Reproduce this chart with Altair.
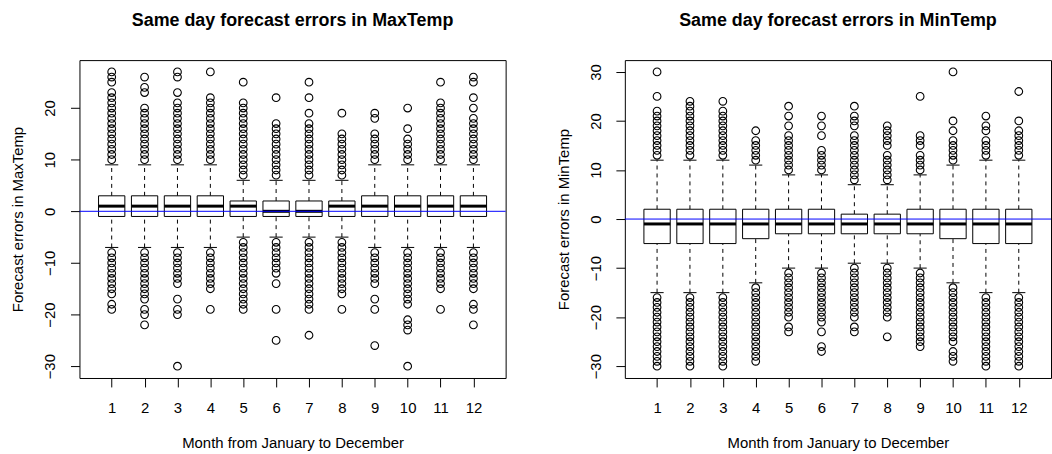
import altair as alt
import pandas as pd

FONT = "Liberation Sans"
months = [1, 2, 3, 4, 5, 6, 7, 8, 9, 10, 11, 12]

# ---- MaxTemp box statistics ----
max_q1 = [-1, -1, -1, -1, -1, -1, -1, -1, -1, -1, -1, -1]
max_med = [1, 1, 1, 1, 1, 0, 0, 1, 1, 1, 1, 1]
max_q3 = [3, 3, 3, 3, 2, 2, 2, 2, 3, 3, 3, 3]
max_lo = [-7, -7, -7, -7, -5, -5, -5, -5, -7, -7, -7, -7]
max_hi = [9, 9, 9, 9, 6, 6, 6, 6, 9, 9, 9, 9]

max_out_hi = [
    [10, 11, 12, 13, 14, 15, 16, 17, 18, 19, 20, 21, 22, 23, 25, 26, 27],
    [10, 11, 12, 13, 14, 15, 16, 17, 18, 19, 20, 23, 24, 26],
    [10, 11, 12, 13, 14, 15, 16, 17, 18, 19, 20, 21, 23, 26, 27],
    [10, 11, 12, 13, 14, 15, 16, 17, 18, 19, 20, 21, 22, 27],
    [7, 8, 9, 10, 11, 12, 13, 14, 15, 16, 17, 18, 19, 20, 21, 25],
    [7, 8, 9, 10, 11, 12, 13, 14, 15, 16, 17, 22],
    [7, 8, 9, 10, 11, 12, 13, 14, 15, 16, 17, 19, 22, 25],
    [7, 8, 9, 10, 11, 12, 13, 14, 15, 19],
    [10, 11, 12, 13, 14, 15, 18, 19],
    [10, 11, 12, 13, 14, 16, 20],
    [10, 11, 12, 13, 14, 15, 16, 17, 18, 19, 20, 21, 25],
    [10, 11, 12, 13, 14, 15, 16, 17, 18, 20, 22, 25, 26],
]
max_out_lo = [
    [-8, -9, -10, -11, -12, -13, -14, -15, -16, -18, -19],
    [-8, -9, -10, -11, -12, -13, -14, -15, -16, -17, -19, -20, -22],
    [-8, -9, -10, -11, -12, -13, -14, -17, -19, -20, -30],
    [-8, -9, -10, -11, -12, -13, -14, -15, -19],
    [-6, -7, -8, -9, -10, -11, -12, -13, -14, -15, -16, -17, -18, -19],
    [-6, -7, -8, -9, -10, -11, -12, -14, -19, -25],
    [-6, -7, -8, -9, -10, -11, -12, -13, -14, -15, -16, -17, -18, -19, -24],
    [-6, -7, -8, -9, -10, -11, -12, -13, -14, -15, -16, -19],
    [-8, -9, -10, -11, -12, -13, -14, -17, -19, -26],
    [-8, -9, -10, -11, -12, -13, -14, -15, -16, -17, -18, -21, -22, -23, -30],
    [-8, -9, -10, -11, -12, -13, -14, -15, -19],
    [-8, -9, -10, -11, -12, -13, -14, -15, -18, -19, -22],
]

# ---- MinTemp box statistics ----
min_q1 = [-5, -5, -5, -4, -3, -3, -3, -3, -3, -4, -5, -5]
min_med = [-1, -1, -1, -1, -1, -1, -1, -1, -1, -1, -1, -1]
min_q3 = [2, 2, 2, 2, 2, 2, 1, 1, 2, 2, 2, 2]
min_lo = [-15, -15, -15, -13, -10, -10, -9, -9, -10, -13, -15, -15]
min_hi = [12, 12, 12, 11, 9, 9, 7, 7, 9, 11, 12, 12]

min_out_hi = [
    [13, 14, 15, 16, 17, 18, 19, 20, 21, 22, 25, 30],
    [13, 14, 15, 16, 17, 18, 19, 20, 21, 22, 23, 24],
    [13, 14, 15, 16, 17, 18, 19, 20, 21, 22, 24],
    [12, 13, 14, 15, 16, 18],
    [10, 11, 12, 13, 14, 15, 16, 17, 19, 21, 23],
    [10, 11, 12, 13, 14, 17, 19, 21],
    [8, 9, 10, 11, 12, 13, 14, 15, 16, 17, 19, 20, 21, 23],
    [8, 9, 10, 11, 12, 13, 15, 16, 17, 18, 19],
    [10, 11, 12, 13, 15, 16, 17, 25],
    [12, 13, 14, 15, 16, 18, 20, 30],
    [13, 14, 15, 16, 18, 19, 21],
    [13, 14, 15, 16, 17, 18, 20, 26],
]
min_out_lo = [
    [-16, -17, -18, -19, -20, -21, -22, -23, -24, -25, -26, -27, -28, -29, -30],
    [-16, -17, -18, -19, -20, -21, -22, -23, -24, -25, -26, -27, -28, -29, -30],
    [-16, -17, -18, -19, -20, -21, -22, -23, -24, -25, -26, -27, -28, -29, -30],
    [-14, -15, -16, -17, -18, -19, -20, -21, -22, -23, -24, -25, -26, -27, -28, -29],
    [-11, -12, -13, -14, -15, -16, -17, -18, -19, -20, -22, -23],
    [-11, -12, -13, -14, -15, -16, -17, -18, -19, -20, -21, -23, -26, -27],
    [-10, -11, -12, -13, -14, -15, -16, -17, -18, -19, -20, -22, -23],
    [-10, -11, -12, -13, -14, -15, -16, -17, -18, -19, -20, -24],
    [-11, -12, -13, -14, -15, -16, -17, -18, -19, -20, -21, -22, -23, -24, -25, -26],
    [-14, -15, -16, -17, -18, -19, -20, -21, -22, -23, -24, -25, -27, -28, -29],
    [-16, -17, -18, -19, -20, -21, -22, -23, -24, -25, -26, -27, -28, -29, -30],
    [-16, -17, -18, -19, -20, -21, -22, -23, -24, -25, -26, -27, -28, -29, -30],
]

max_ticks = [-30, -20, -10, 0, 10, 20]
min_ticks = [-30, -20, -10, 0, 10, 20, 30]
max_domain = [-32.28, 29.28]
min_domain = [-32.4, 32.4]
x_domain = [0.02, 12.98]


def stats_frame(q1, med, q3, lo, hi):
    return pd.DataFrame({"month": months, "q1": q1, "med": med, "q3": q3, "lo": lo, "hi": hi})


def outlier_frame(hi_lists, lo_lists):
    rows = []
    for m, vals in zip(months, hi_lists):
        for v in vals:
            rows.append({"month": m, "value": v})
    for m, vals in zip(months, lo_lists):
        for v in vals:
            rows.append({"month": m, "value": v})
    return pd.DataFrame(rows)


def panel(stats, outs, ydomain, yticks, title, ytitle):
    xs = alt.Scale(domain=x_domain, nice=False, zero=False)
    ys = alt.Scale(domain=ydomain, nice=False, zero=False)
    xaxis = alt.Axis(values=months, format="d", title="Month from January to December")
    yaxis = alt.Axis(values=yticks, format="d", title=ytitle)

    def X(f):
        return alt.X(f, type="quantitative", scale=xs, axis=xaxis)

    def Y(f):
        return alt.Y(f, type="quantitative", scale=ys, axis=yaxis)

    base = alt.Chart(stats).transform_calculate(
        xl="datum.month - 0.4", xr="datum.month + 0.4",
        cl="datum.month - 0.2", cr="datum.month + 0.2",
    )
    w_up = base.mark_rule(color="black", strokeWidth=1, strokeDash=[4, 4]).encode(
        x=X("month"), y=Y("q3"), y2="hi:Q")
    w_lo = base.mark_rule(color="black", strokeWidth=1, strokeDash=[4, 4]).encode(
        x=X("month"), y=Y("lo"), y2="q1:Q")
    c_up = base.mark_rule(color="black", strokeWidth=1).encode(
        x=X("cl"), x2="cr:Q", y=Y("hi"))
    c_lo = base.mark_rule(color="black", strokeWidth=1).encode(
        x=X("cl"), x2="cr:Q", y=Y("lo"))
    box = base.mark_bar(fill="white", stroke="black", strokeWidth=1, opacity=1).encode(
        x=X("xl"), x2="xr:Q", y=Y("q1"), y2="q3:Q")
    med = base.mark_rule(color="black", strokeWidth=3).encode(
        x=X("xl"), x2="xr:Q", y=Y("med"))
    pts = alt.Chart(outs).mark_point(
        shape="circle", filled=False, size=60, color="black", strokeWidth=1.1, opacity=1
    ).encode(x=X("month"), y=Y("value"))
    zero = alt.Chart(pd.DataFrame({"z": [0]})).mark_rule(color="blue", strokeWidth=1).encode(
        y=Y("z"))
    return alt.layer(w_up, w_lo, c_up, c_lo, box, med, pts, zero).properties(
        width=429, height=320,
        title=alt.TitleParams(title, font=FONT, fontSize=18, fontWeight="bold",
                              anchor="middle", frame="group", offset=30, color="black"),
    )


left = panel(stats_frame(max_q1, max_med, max_q3, max_lo, max_hi),
             outlier_frame(max_out_hi, max_out_lo), max_domain, max_ticks,
             "Same day forecast errors in MaxTemp", "Forecast errors in MaxTemp")
right = panel(stats_frame(min_q1, min_med, min_q3, min_lo, min_hi),
              outlier_frame(min_out_hi, min_out_lo), min_domain, min_ticks,
              "Same day forecast errors in MinTemp", "Forecast errors in MinTemp")

chart = alt.hconcat(left, right, spacing=120, bounds="flush").properties(
    padding={"left": 10, "top": 10, "right": 0, "bottom": 0},
    background="white",
).configure_view(stroke="black", strokeWidth=1).configure_axis(
    grid=False, domain=False, labelFont=FONT, titleFont=FONT, labelFontSize=15,
    titleFontSize=15, titleFontWeight="normal", labelColor="black", titleColor="black",
    tickColor="black", tickSize=9, tickWidth=1,
).configure_axisX(labelPadding=14, titlePadding=20, labelAngle=0).configure_axisY(
    labelAngle=270, labelAlign="center", labelBaseline="bottom", labelPadding=13, titlePadding=17,
)

chart.save("out.html", embed_options={"renderer": "svg", "actions": False})
